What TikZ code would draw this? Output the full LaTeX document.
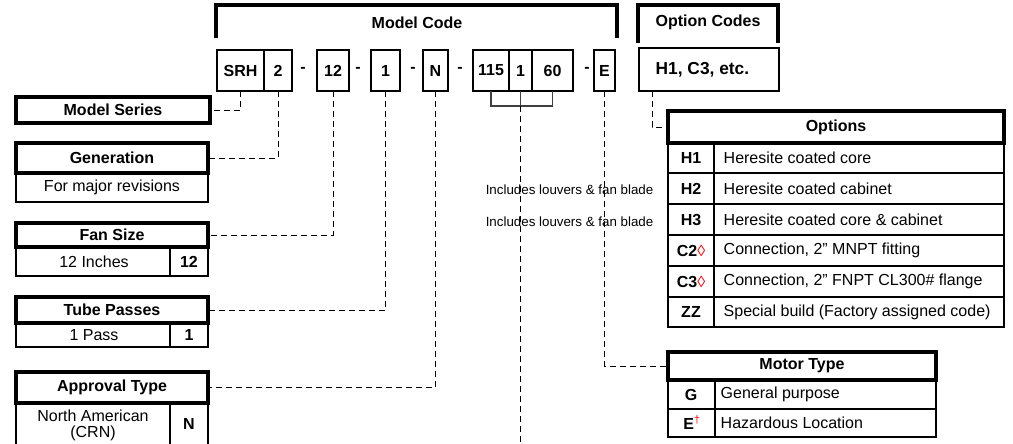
\documentclass[tikz,border=0pt]{standalone}
\usepackage{fontspec}
\setmainfont{Liberation Sans}
\newcommand{\mybox}[7]{\node[#6, inner sep=0pt, outer sep=0pt, minimum width={(#4-#2)*0.75pt}, minimum height={(#5-#3)*0.75pt}] (#1) at ({(#2+#4)/2},{(#3+#5)/2}) {#7};}
\begin{document}
\begin{tikzpicture}[x=0.75pt,y=-0.75pt,
  font=\fontsize{12pt}{14pt}\selectfont,
  hdr/.style={draw, line width=2.6pt, fill=white, font=\fontsize{12pt}{14pt}\selectfont\bfseries},
  bodyc/.style={draw, line width=1.8pt, fill=white},
  cell/.style={draw, line width=0.8pt, fill=white},
  code/.style={draw, line width=2pt, fill=white, font=\fontsize{12pt}{14pt}\selectfont\bfseries},
  lbl/.style={font=\fontsize{12pt}{14pt}\selectfont\bfseries},
  thinl/.style={line width=0.8pt},
  bracket/.style={line width=2.3pt},
  brk/.style={line width=0.9pt, black!75},
  conn/.style={dash pattern=on 4.5pt off 3pt, line width=0.75pt},
  desc/.style={anchor=west},
  small/.style={font=\fontsize{10pt}{12pt}\selectfont}]
\clip (0,0) rectangle (1013,443);

% ---------- Model code header ----------
\node[lbl] (mc) at (417,23) {Model Code};
\draw[bracket] (216,38) -- (216,5) -- (617,5) -- (617,38);
\node[lbl] (oc) at (708,22) {Option Codes};
\draw[bracket] (638,43) -- (638,5) -- (778,5) -- (778,43);

% ---------- Code boxes ----------
\mybox{srh}{217}{50}{264}{91}{code}{SRH}
\mybox{g2}{264}{50}{292}{91}{code}{2}
\node[lbl] (d1) at (303,70) {-};
\mybox{c12}{317}{50}{349}{91}{code}{12}
\node[lbl] (d2) at (358,70) {-};
\mybox{c1}{371}{50}{400}{91}{code}{1}
\node[lbl] (d3) at (413,70) {-};
\mybox{cN}{423}{50}{448}{91}{code}{N}
\node[lbl] (d4) at (460,70) {-};
\mybox{c115}{473}{50}{509}{91}{code}{115}
\mybox{cmid}{509}{50}{532}{91}{code}{1}
\mybox{c60}{532}{50}{573}{91}{code}{60}
\node[lbl] (d5) at (587,70) {-};
\mybox{cE}{594}{50}{615}{91}{code}{E}
\mybox{opt}{639}{48}{779}{91}{code}{}
\node[lbl, anchor=west, font=\fontsize{13pt}{15pt}\selectfont\bfseries] (optt) at (651,69.5) {H1, C3, etc.};

% ---------- Left boxes ----------
\mybox{series}{16}{97}{210}{123}{hdr}{Model Series}

\mybox{genb}{16}{173}{208}{202}{bodyc}{For major revisions}
\mybox{gen}{16}{143}{208}{173}{hdr}{Generation}

\mybox{fanb}{16}{247}{208}{276}{bodyc}{}
\draw[thinl] (170,247) -- (170,276);
\node (fant) at (94,261.5) {12 Inches};
\node[lbl] (fanc) at (189,261.5) {12};
\mybox{fan}{16}{223}{208}{247}{hdr}{Fan Size}

\mybox{tubeb}{16}{323}{208}{347}{bodyc}{}
\draw[thinl] (170,323) -- (170,347);
\node (tubet) at (94,335) {1 Pass};
\node[lbl] (tubec) at (189,335) {1};
\mybox{tube}{16}{297}{208}{323}{hdr}{Tube Passes}

\mybox{apprb}{16}{403}{208}{470}{bodyc}{}
\draw[thinl] (170,403) -- (170,470);
\node[align=center, inner sep=0pt] (apprt) at (93,425.5) {North American\\[-1.5pt](CRN)};
\node[lbl] (apprc) at (189,424) {N};
\mybox{appr}{16}{372}{208}{403}{hdr}{Approval Type}

% ---------- Options table ----------
\mybox{or1}{668}{143}{1004}{173}{cell}{}
\mybox{or2}{668}{173}{1004}{204}{cell}{}
\mybox{or3}{668}{204}{1004}{235}{cell}{}
\mybox{or4}{668}{235}{1004}{266}{cell}{}
\mybox{or5}{668}{266}{1004}{297}{cell}{}
\mybox{or6}{668}{297}{1004}{327}{cell}{}
\draw[thinl] (714,143) -- (714,327);
\mybox{options}{668}{111}{1004}{143}{hdr}{Options}
\node[lbl] (k1) at (691,158) {H1};
\node[lbl] (k2) at (691,188.5) {H2};
\node[lbl] (k3) at (691,219.5) {H3};
\node[lbl] (k4) at (691,250.5) {C2\textcolor{red}{\normalfont◊}};
\node[lbl] (k5) at (691,281.5) {C3\textcolor{red}{\normalfont◊}};
\node[lbl] (k6) at (691,312) {ZZ};
\node[desc] (t1) at (719,158) {Heresite coated core};
\node[desc] (t2) at (719,188.5) {Heresite coated cabinet};
\node[desc] (t3) at (719,219.5) {Heresite coated core \& cabinet};
\node[desc] (t4) at (719,250.5) {Connection, 2” MNPT fitting};
\node[desc] (t5) at (719,281.5) {Connection, 2” FNPT CL300\# flange};
\node[desc] (t6) at (719,312) {Special build (Factory assigned code)};

% ---------- Motor type ----------
\mybox{motorb}{668}{380}{936}{437}{bodyc}{}
\draw[thinl] (668,409) -- (936,409);
\draw[thinl] (715,380) -- (715,437);
\mybox{motor}{668}{352}{936}{380}{hdr}{Motor Type}
\node[lbl] (m1) at (691,394.5) {G};
\node[lbl] (m2) at (692,423) {E\textsuperscript{\textcolor{red}{\normalfont†}}};
\node[desc] (mt1) at (716,394.5) {General purpose};
\node[desc] (mt2) at (716,423) {Hazardous Location};

% ---------- Notes ----------
\node[small, anchor=east] (inc1) at (658,190) {Includes louvers \& fan blade};
\node[small, anchor=east] (inc2) at (658,222) {Includes louvers \& fan blade};

% ---------- Connectors ----------
\draw[conn] (srh.south) |- (series.east);
\draw[conn] (g2.south) |- (gen.east);
\draw[conn] (c12.south) |- (fan.east);
\draw[conn] (c1.south) |- (tube.east);
\draw[conn] (cN.south) |- (appr.east);
\draw[conn] (cE.south) |- (motor.west);
\draw[conn] ([xshift=9.75pt]opt.south west) |- (options.west);
\draw[brk] (c115.south) -- ++(0,15) -| (c60.south);
\draw[brk] (cmid.south) -- ++(0,15) coordinate (bk);
\draw[conn] (bk) -- ++(0,345) coordinate (bend);
\end{tikzpicture}
\end{document}
